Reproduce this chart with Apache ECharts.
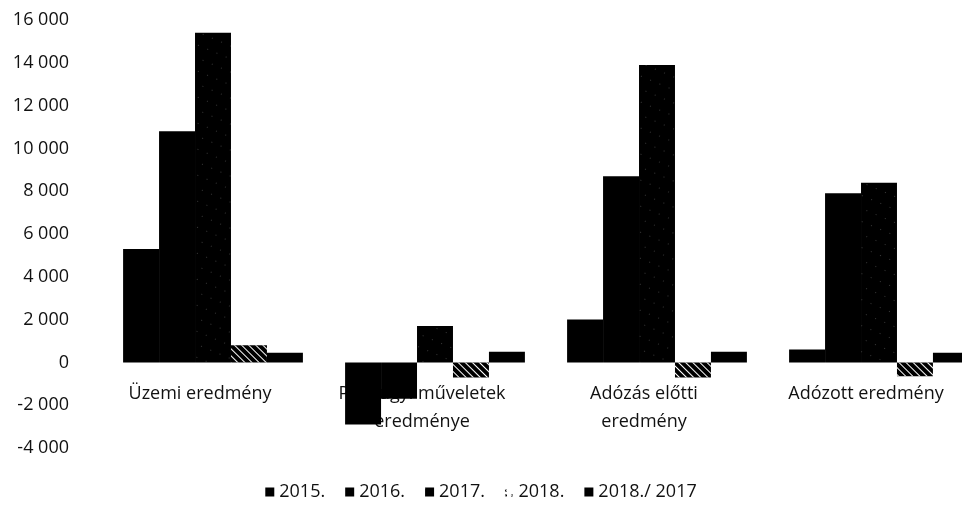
<!DOCTYPE html>
<html>
<head>
<meta charset="utf-8">
<script src="https://cdn.jsdelivr.net/npm/echarts@6/dist/echarts.min.js"></script>
<style>html,body{margin:0;padding:0;background:#fff;}#c{width:962px;height:512px;}</style>
</head>
<body>
<div id="c"></div>
<script>
const categories = ['Üzemi eredmény', 'Pénzügyi műveletek\neredménye', 'Adózás előtti\neredmény', 'Adózott eredmény'];
const seriesNames = ['2015.', '2016.', '2017.', '2018.', '2018./ 2017'];
const v2015 = [5300, -2900, 2000, 600];
const v2016 = [10800, -1700, 8700, 7900];
const v2017 = [15400, 1700, 13900, 8400];
const v2018 = [800, -700, -700, -650];
const vRatio = [450, 500, 500, 450];
const yTicks = { min: -4000, max: 16000, interval: 2000 };

const font = 'Open Sans';
const values = [v2015, v2016, v2017, v2018, vRatio];
const decals = [
  null,
  null,
  { symbol: 'circle', symbolSize: 0.6, color: '#fff', dashArrayX: [1, 9], dashArrayY: [1, 11], rotation: 0.4 },
  { symbol: 'rect', symbolSize: 1, color: '#fff', dashArrayX: [1, 0], dashArrayY: [1, 4], rotation: 0.78 },
  null
];
const legendIcons = [
  'rect',
  'rect',
  'path://M0,0h10v10h-10z M2,7l5,-5v1.5l-5,5z',
  'path://M1,2h2v2h-2z M1,7h2v2h-2z M7,7h2v2h-2z M4,0h0.01v0.01h-0.01z',
  'rect'
];

const gridTop = 20, gridBottom = 64, chartH = 512;
const plotH = chartH - gridTop - gridBottom;
// distance of the zero line above the bottom of the plot, used to place the category axis on zero
const zeroOffset = plotH * (0 - yTicks.min) / (yTicks.max - yTicks.min);

const chart = echarts.init(document.getElementById('c'), null, { renderer: 'canvas' });
chart.setOption({
  animation: false,
  backgroundColor: '#fff',
  textStyle: { fontFamily: font },
  grid: { left: 102, right: -28, top: gridTop, bottom: gridBottom, containLabel: false, outerBoundsMode: 'none' },
  legend: {
    bottom: 6,
    left: 'center',
    itemWidth: 9,
    itemHeight: 9,
    itemGap: 20,
    textStyle: { fontFamily: font, fontSize: 18, color: '#111' },
    data: seriesNames.map(function (n, i) { return { name: n, icon: legendIcons[i] }; })
  },
  xAxis: {
    type: 'category',
    data: categories,
    offset: -zeroOffset,
    axisLine: { show: false, onZero: false },
    axisTick: { show: false },
    axisLabel: {
      interval: 0,
      margin: 17,
      fontFamily: font,
      fontSize: 18,
      lineHeight: 28,
      color: '#111',
      padding: [0, 26, 0, 0]
    }
  },
  yAxis: {
    type: 'value',
    min: yTicks.min,
    max: yTicks.max,
    interval: yTicks.interval,
    axisLine: { show: false },
    axisTick: { show: false },
    splitLine: { show: false },
    axisLabel: {
      margin: 33,
      fontFamily: font,
      fontSize: 18,
      color: '#111',
      formatter: function (v) {
        const s = Math.abs(v).toString().replace(/\B(?=(\d{3})+(?!\d))/g, ' ');
        return (v < 0 ? '-' : '') + s;
      }
    }
  },
  series: seriesNames.map(function (name, i) {
    const style = { color: '#000' };
    if (decals[i]) style.decal = decals[i];
    return {
      name: name,
      type: 'bar',
      data: values[i],
      barGap: '0%',
      barCategoryGap: '19%',
      itemStyle: style
    };
  })
});
</script>
</body>
</html>
